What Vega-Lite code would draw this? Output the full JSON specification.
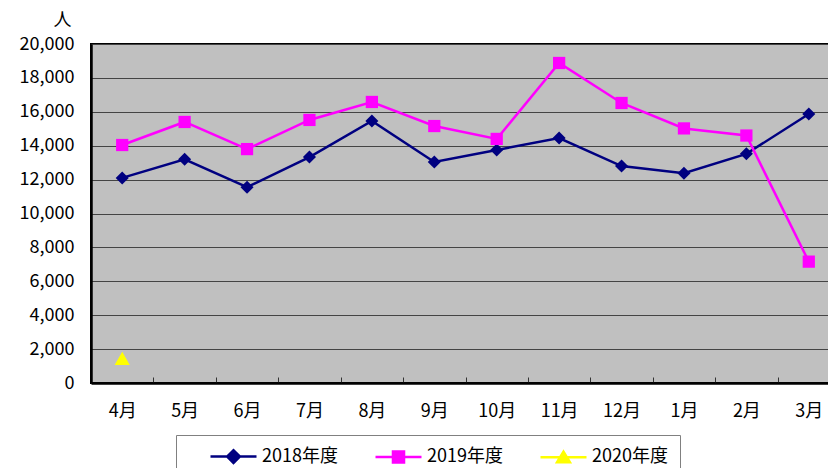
{
  "$schema": "https://vega.github.io/schema/vega-lite/v6.json",
  "autosize": "none",
  "width": 749,
  "height": 339,
  "padding": {"left": 91, "top": 44, "right": 0, "bottom": 85},
  "background": "white",
  "config": {
    "font": "Noto Sans CJK JP",
    "view": {"fill": "#C0C0C0", "stroke": "black", "strokeWidth": 2}
  },
  "data": {
    "values": [
      {"month": "4月", "series": "2018年度", "value": 12100},
      {"month": "5月", "series": "2018年度", "value": 13200},
      {"month": "6月", "series": "2018年度", "value": 11550},
      {"month": "7月", "series": "2018年度", "value": 13330},
      {"month": "8月", "series": "2018年度", "value": 15460},
      {"month": "9月", "series": "2018年度", "value": 13040},
      {"month": "10月", "series": "2018年度", "value": 13750},
      {"month": "11月", "series": "2018年度", "value": 14450},
      {"month": "12月", "series": "2018年度", "value": 12800},
      {"month": "1月", "series": "2018年度", "value": 12380},
      {"month": "2月", "series": "2018年度", "value": 13520},
      {"month": "3月", "series": "2018年度", "value": 15870},
      {"month": "4月", "series": "2019年度", "value": 14040},
      {"month": "5月", "series": "2019年度", "value": 15400},
      {"month": "6月", "series": "2019年度", "value": 13800},
      {"month": "7月", "series": "2019年度", "value": 15520},
      {"month": "8月", "series": "2019年度", "value": 16580},
      {"month": "9月", "series": "2019年度", "value": 15160},
      {"month": "10月", "series": "2019年度", "value": 14400},
      {"month": "11月", "series": "2019年度", "value": 18880},
      {"month": "12月", "series": "2019年度", "value": 16520},
      {"month": "1月", "series": "2019年度", "value": 15020},
      {"month": "2月", "series": "2019年度", "value": 14600},
      {"month": "3月", "series": "2019年度", "value": 7160},
      {"month": "4月", "series": "2020年度", "value": 1450}
    ]
  },
  "encoding": {
    "x": {
      "field": "month", "type": "nominal",
      "sort": ["4月","5月","6月","7月","8月","9月","10月","11月","12月","1月","2月","3月"],
      "scale": {"paddingInner": 0, "paddingOuter": 0},
      "axis": {
        "title": null, "labelAngle": 0, "labelFontSize": 18, "labelColor": "black",
        "labelPadding": 25, "tickBand": "extent", "tickSize": -6, "tickColor": "#333",
        "domainColor": "black", "domainWidth": 2.5, "grid": false
      }
    },
    "y": {
      "field": "value", "type": "quantitative",
      "scale": {"domain": [0, 20000]},
      "axis": {
        "title": "人", "titleAngle": 0, "titleFontSize": 18, "titleFontWeight": "normal",
        "titleX": -29, "titleY": -24, "titleAlign": "center", "titleBaseline": "middle",
        "values": [0,2000,4000,6000,8000,10000,12000,14000,16000,18000,20000],
        "format": ",.0f", "labelFontSize": 18, "labelColor": "black", "labelPadding": 17,
        "ticks": false, "domainColor": "black", "domainWidth": 2.5,
        "grid": true, "gridColor": "#444", "gridWidth": 1.2
      }
    },
    "color": {
      "field": "series", "type": "nominal",
      "scale": {"domain": ["2018年度","2019年度","2020年度"], "range": ["#000080","#FF00FF","#FFFF00"]},
      "legend": {
        "orient": "none", "legendX": 85, "legendY": 391, "direction": "horizontal",
        "title": "　", "titleOrient": "left", "titlePadding": 21, "titleFontSize": 16,
        "strokeColor": "#808080", "padding": 12, "fillColor": "white",
        "labelFontSize": 18, "labelColor": "black", "labelOffset": 34, "columnPadding": 32,
        "symbolSize": 256, "symbolStrokeWidth": 2.5,
        "encode": {
          "symbols": {
            "update": {
              "shape": {"signal": "datum.value === '2018年度' ? 'M-1,0H4.75M1.075,0L1.875,-0.8L2.675,0L1.875,0.8Z' : datum.value === '2019年度' ? 'M-1,0H4.75M1.185,-0.69H2.565V0.69H1.185Z' : 'M-1,0H4.75M1.075,0.6L1.875,-0.7L2.675,0.6Z'"},
              "fill": {"signal": "scale('color', datum.value)"},
              "stroke": {"signal": "scale('color', datum.value)"},
              "strokeWidth": {"value": 2.5},
              "opacity": {"value": 1}
            }
          }
        }
      }
    }
  },
  "layer": [
    {"mark": {"type": "line", "strokeWidth": 2.5}},
    {
      "transform": [{"filter": "datum.series === '2018年度'"}],
      "mark": {"type": "point", "filled": true, "opacity": 1, "size": 170, "shape": "diamond"}
    },
    {
      "transform": [{"filter": "datum.series === '2019年度'"}],
      "mark": {"type": "point", "filled": true, "opacity": 1, "size": 150, "shape": "square"}
    },
    {
      "transform": [{"filter": "datum.series === '2020年度'"}],
      "mark": {"type": "point", "filled": true, "opacity": 1, "size": 230, "shape": "triangle-up"}
    }
  ]
}
